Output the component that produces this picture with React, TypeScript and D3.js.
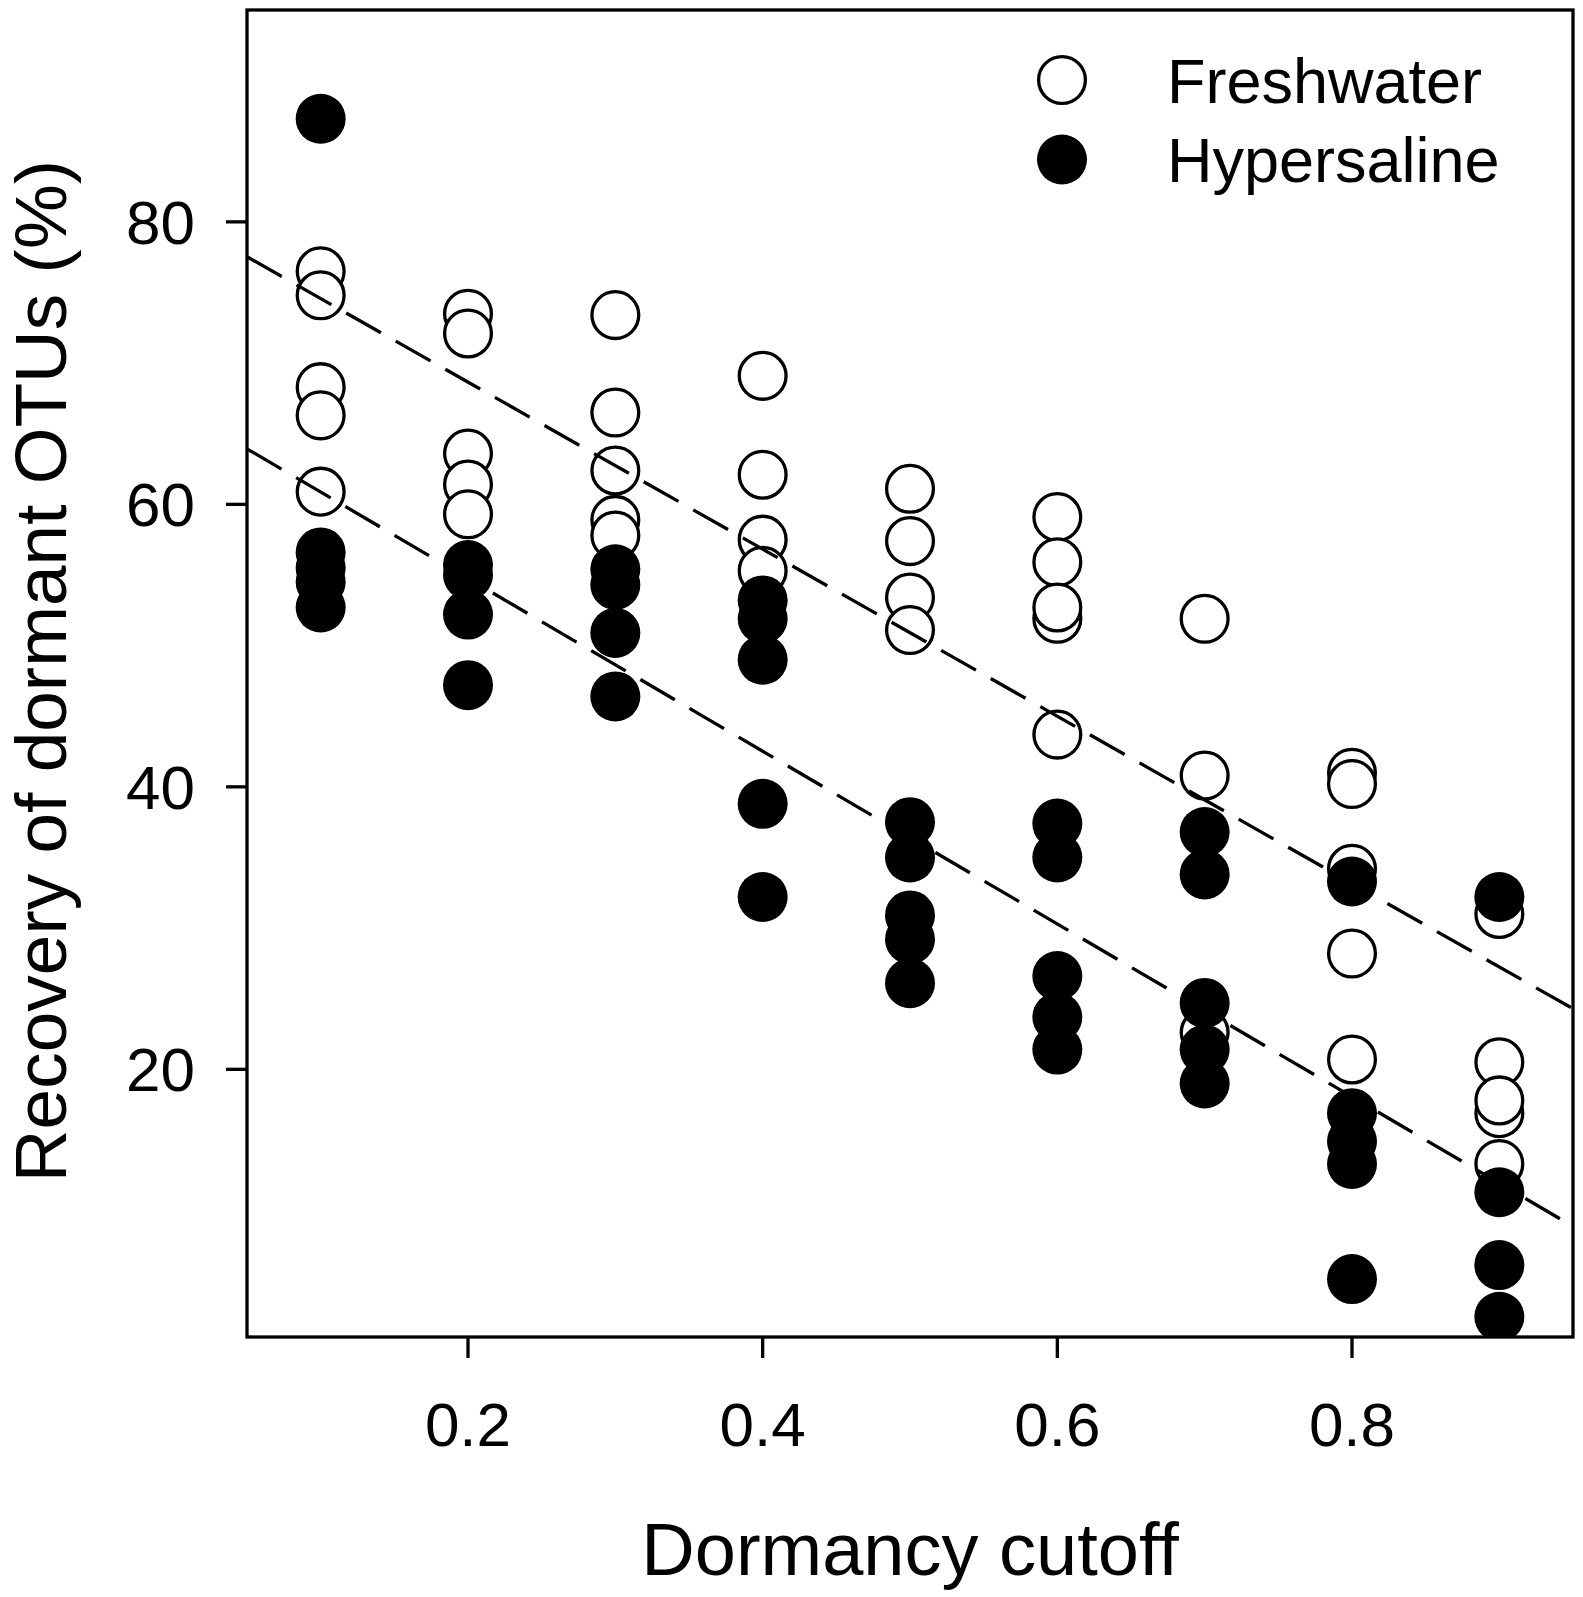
import React from 'react';
import * as d3 from 'd3';

// ---- data ----
const cutoffs: number[] = [0.1, 0.2, 0.3, 0.4, 0.5, 0.6, 0.7, 0.8, 0.9];

// Recovery of dormant OTUs (%) — Freshwater (open circles), one list per cutoff
const freshwater: number[][] = [
  [76.5, 74.8, 68.3, 66.3, 60.9],
  [73.5, 72.1, 63.6, 61.4, 59.3],
  [73.4, 66.5, 62.4, 58.9, 57.8],
  [69.1, 62.1, 57.5, 55.3],
  [61.1, 57.4, 53.4, 51.1],
  [59.1, 55.9, 51.9, 52.7, 43.7],
  [51.9, 40.8, 22.6],
  [41.0, 40.2, 34.2, 28.2, 20.7],
  [31.0, 20.5, 16.9, 17.8, 13.3],
];

// Hypersaline (filled circles)
const hypersaline: number[][] = [
  [87.3, 56.6, 55.5, 54.5, 52.7],
  [55.7, 55.0, 52.2, 47.2],
  [55.4, 54.3, 50.9, 46.4],
  [53.2, 51.9, 49.0, 38.8, 32.2],
  [37.5, 35.0, 30.9, 29.2, 26.1],
  [37.4, 35.0, 26.6, 23.7, 21.4],
  [36.8, 33.8, 24.7, 21.4, 19.0],
  [33.3, 16.9, 14.9, 13.3, 5.15],
  [32.2, 11.3, 6.14, 2.48],
];

const xTicks: number[] = [0.2, 0.4, 0.6, 0.8];
const yTicks: number[] = [20, 40, 60, 80];
const xDomain: [number, number] = [0.05, 0.95];
const yDomain: [number, number] = [1.05, 95];

const seriesNames: string[] = ['Freshwater', 'Hypersaline'];
const xLabel = 'Dormancy cutoff';
const yLabel = 'Recovery of dormant OTUs (%)';

// ---- helpers ----
type Pt = { x: number; y: number };
const toPoints = (groups: number[][]): Pt[] =>
  groups.flatMap((vals, i) => vals.map((v) => ({ x: cutoffs[i], y: v })));

const fit = (pts: Pt[]) => {
  const mx = d3.mean(pts, (p) => p.x)!;
  const my = d3.mean(pts, (p) => p.y)!;
  const sxy = d3.sum(pts, (p) => (p.x - mx) * (p.y - my));
  const sxx = d3.sum(pts, (p) => (p.x - mx) * (p.x - mx));
  const slope = sxy / sxx;
  return { slope, intercept: my - slope * mx };
};

const W = 1583;
const H = 1597;
const L = 247, R = 1573, T = 10, B = 1337;
const FONT = '"Liberation Sans", Arial, Helvetica, sans-serif';
const SW = 3.3;

export default function App() {
  const x = d3.scaleLinear().domain(xDomain).range([L, R]);
  const y = d3.scaleLinear().domain(yDomain).range([B, T]);

  const fw = toPoints(freshwater);
  const hs = toPoints(hypersaline);
  const fits = [fit(fw), fit(hs)];

  const line = d3
    .line<Pt>()
    .x((d) => x(d.x))
    .y((d) => y(d.y));

  const r = 25;

  return (
    <svg
      width={W}
      height={H}
      style={{ position: 'absolute', left: 0, top: 0, background: '#fff' }}
      fontFamily={FONT}
    >
      <rect x={0} y={0} width={W} height={H} fill="#fff" />
      <defs>
        <clipPath id="plotclip">
          <rect x={L} y={T} width={R - L} height={B - T} />
        </clipPath>
      </defs>

      {/* points */}
      <g clipPath="url(#plotclip)">
        {fw.map((p, i) => (
          <circle key={'f' + i} cx={x(p.x)} cy={y(p.y)} r={r - 1.6} fill="#fff" stroke="#000" strokeWidth={SW} />
        ))}
        {hs.map((p, i) => (
          <circle key={'h' + i} cx={x(p.x)} cy={y(p.y)} r={r} fill="#000" />
        ))}
        {fits.map((f, i) => (
          <path
            key={'l' + i}
            d={line(xDomain.map((xv) => ({ x: xv, y: f.intercept + f.slope * xv })))!}
            fill="none"
            stroke="#000"
            strokeWidth={SW}
            strokeDasharray="40 17"
          />
        ))}
      </g>

      {/* box */}
      <rect x={L} y={T} width={R - L} height={B - T} fill="none" stroke="#000" strokeWidth={SW} />

      {/* x axis */}
      {xTicks.map((t) => (
        <g key={'xt' + t}>
          <line x1={x(t)} x2={x(t)} y1={B} y2={B + 21} stroke="#000" strokeWidth={SW} />
          <text x={x(t)} y={1446} fontSize={62} textAnchor="middle">
            {t.toFixed(1)}
          </text>
        </g>
      ))}

      {/* y axis */}
      {yTicks.map((t) => (
        <g key={'yt' + t}>
          <line x1={L - 21} x2={L} y1={y(t)} y2={y(t)} stroke="#000" strokeWidth={SW} />
          <text x={195} y={y(t) + 22} fontSize={62} textAnchor="end">
            {t}
          </text>
        </g>
      ))}

      {/* axis titles */}
      <text x={(L + R) / 2} y={1575} fontSize={74} textAnchor="middle">
        {xLabel}
      </text>
      <text transform={`translate(66, 671) rotate(-90)`} fontSize={73} textAnchor="middle">
        {yLabel}
      </text>

      {/* legend */}
      <g>
        <circle cx={1062} cy={80} r={r - 1.6} fill="#fff" stroke="#000" strokeWidth={SW} />
        <text x={1167} y={102.5} fontSize={63}>
          {seriesNames[0]}
        </text>
        <circle cx={1062} cy={159.5} r={r} fill="#000" />
        <text x={1167} y={182} fontSize={63}>
          {seriesNames[1]}
        </text>
      </g>
    </svg>
  );
}
